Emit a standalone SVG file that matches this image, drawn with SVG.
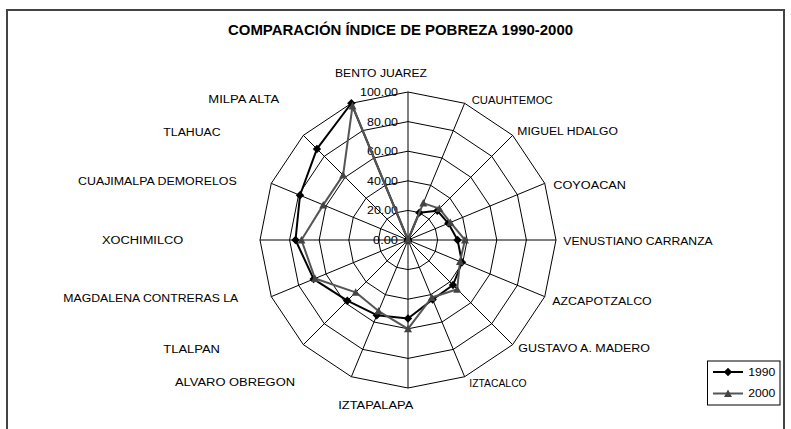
<svg xmlns="http://www.w3.org/2000/svg" width="791" height="429" viewBox="0 0 791 429">
<style>
text{font-family:"Liberation Sans",Arial,sans-serif;font-size:10px;fill:#000}
.title{font-size:14px;font-weight:bold}
.tick{text-anchor:end}
.ring{fill:none;stroke:#000;stroke-width:1}
.spoke{stroke:#000;stroke-width:1}
.s1990{fill:none;stroke:#000;stroke-width:2;stroke-linejoin:round;marker-start:url(#dia);marker-mid:url(#dia);marker-end:url(#dia)}
.s2000{fill:none;stroke:#555;stroke-width:2;stroke-linejoin:round;marker-start:url(#tri);marker-mid:url(#tri);marker-end:url(#tri)}
</style>
<defs>
<marker id="dia" markerUnits="userSpaceOnUse" markerWidth="10" markerHeight="10" refX="5" refY="5" orient="0" overflow="visible">
<polygon points="5,0.8 9.2,5 5,9.2 0.8,5" fill="#000"/>
</marker>
<marker id="tri" markerUnits="userSpaceOnUse" markerWidth="10" markerHeight="10" refX="5" refY="5" orient="0" overflow="visible">
<polygon points="5,1 9,8.5 1,8.5" fill="#444"/>
</marker>
</defs>
<rect width="791" height="429" fill="#fff"/>
<path id="frame" d="M7,432 V10 H784 V432" fill="none" stroke="#444" stroke-width="2"/>
<text class="title" x="228" y="35" textLength="345" lengthAdjust="spacingAndGlyphs">COMPARACIÓN ÍNDICE DE POBREZA 1990-2000</text>
<g id="grid" transform="translate(408,240)">
<polygon class="ring" points="0,-29.6 11.33,-27.35 20.93,-20.93 27.35,-11.33 29.6,0 27.35,11.33 20.93,20.93 11.33,27.35 0,29.6 -11.33,27.35 -20.93,20.93 -27.35,11.33 -29.6,0 -27.35,-11.33 -20.93,-20.93 -11.33,-27.35"/>
<polygon class="ring" points="0,-59.2 22.65,-54.69 41.86,-41.86 54.69,-22.65 59.2,0 54.69,22.65 41.86,41.86 22.65,54.69 0,59.2 -22.65,54.69 -41.86,41.86 -54.69,22.65 -59.2,0 -54.69,-22.65 -41.86,-41.86 -22.65,-54.69"/>
<polygon class="ring" points="0,-88.8 33.98,-82.04 62.79,-62.79 82.04,-33.98 88.8,0 82.04,33.98 62.79,62.79 33.98,82.04 0,88.8 -33.98,82.04 -62.79,62.79 -82.04,33.98 -88.8,0 -82.04,-33.98 -62.79,-62.79 -33.98,-82.04"/>
<polygon class="ring" points="0,-118.4 45.31,-109.39 83.72,-83.72 109.39,-45.31 118.4,0 109.39,45.31 83.72,83.72 45.31,109.39 0,118.4 -45.31,109.39 -83.72,83.72 -109.39,45.31 -118.4,0 -109.39,-45.31 -83.72,-83.72 -45.31,-109.39"/>
<polygon class="ring" points="0,-148 56.64,-136.73 104.65,-104.65 136.73,-56.64 148,0 136.73,56.64 104.65,104.65 56.64,136.73 0,148 -56.64,136.73 -104.65,104.65 -136.73,56.64 -148,0 -136.73,-56.64 -104.65,-104.65 -56.64,-136.73"/>
<g class="spoke">
<line x1="0" y1="0" x2="0" y2="-148"/>
<line x1="0" y1="0" x2="56.64" y2="-136.73"/>
<line x1="0" y1="0" x2="104.65" y2="-104.65"/>
<line x1="0" y1="0" x2="136.73" y2="-56.64"/>
<line x1="0" y1="0" x2="148" y2="0"/>
<line x1="0" y1="0" x2="136.73" y2="56.64"/>
<line x1="0" y1="0" x2="104.65" y2="104.65"/>
<line x1="0" y1="0" x2="56.64" y2="136.73"/>
<line x1="0" y1="0" x2="0" y2="148"/>
<line x1="0" y1="0" x2="-56.64" y2="136.73"/>
<line x1="0" y1="0" x2="-104.65" y2="104.65"/>
<line x1="0" y1="0" x2="-136.73" y2="56.64"/>
<line x1="0" y1="0" x2="-148" y2="0"/>
<line x1="0" y1="0" x2="-136.73" y2="-56.64"/>
<line x1="0" y1="0" x2="-104.65" y2="-104.65"/>
<line x1="0" y1="0" x2="-56.64" y2="-136.73"/>
</g>
</g>
<g id="ticks">
<text class="tick" x="398" y="96" textLength="38" lengthAdjust="spacingAndGlyphs">100.00</text>
<text class="tick" x="398" y="125.6" textLength="31" lengthAdjust="spacingAndGlyphs">80.00</text>
<text class="tick" x="398" y="155.2" textLength="31" lengthAdjust="spacingAndGlyphs">60.00</text>
<text class="tick" x="398" y="184.8" textLength="31" lengthAdjust="spacingAndGlyphs">40.00</text>
<text class="tick" x="398" y="214.4" textLength="31" lengthAdjust="spacingAndGlyphs">20.00</text>
<text class="tick" x="398" y="244" textLength="25" lengthAdjust="spacingAndGlyphs">0.00</text>
</g>
<g id="connectors">
<polygon id="series-1990" class="s1990" points="408,240 419.33,212.65 437.30,210.70 448.34,223.29 457.58,240 462.01,262.37 453.0,285.0 432.64,299.48 408,318.44 376.85,315.20 347.30,300.70 313.65,279.08 295.52,240 299.98,195.26 316.95,148.95 351.36,103.27"/>
<polygon id="series-2000" class="s2000" points="408,240 423.29,203.08 439.40,208.60 450.39,222.44 464.98,240 459.96,261.52 457.19,289.19 431.79,297.43 408,328.8 378.55,311.10 355.67,292.33 315.02,278.51 301.44,240 323.23,204.89 343.12,175.12 352.50,106.0"/>
</g>
<g id="labels">
<g id="n-benito"><text x="335" y="77" textLength="92" lengthAdjust="spacingAndGlyphs">BENTO JUAREZ</text></g>
<g id="n-cuauhtemoc"><text x="471.7" y="104" textLength="81" lengthAdjust="spacingAndGlyphs">CUAUHTEMOC</text></g>
<g id="n-miguel"><text x="517.3" y="135" textLength="100.7" lengthAdjust="spacingAndGlyphs">MIGUEL HDALGO</text></g>
<g id="n-coyoacan"><text x="553.3" y="188.5" textLength="72.7" lengthAdjust="spacingAndGlyphs">COYOACAN</text></g>
<g id="n-venustiano"><text x="563.3" y="245" textLength="149.4" lengthAdjust="spacingAndGlyphs">VENUSTIANO CARRANZA</text></g>
<g id="n-azcapotzalco"><text x="552.3" y="305" textLength="99.4" lengthAdjust="spacingAndGlyphs">AZCAPOTZALCO</text></g>
<g id="n-gustavo"><text x="518.3" y="352" textLength="131.7" lengthAdjust="spacingAndGlyphs">GUSTAVO A. MADERO</text></g>
<g id="n-iztacalco"><text x="469.3" y="387" textLength="57.4" lengthAdjust="spacingAndGlyphs">IZTACALCO</text></g>
<g id="n-iztapalapa"><text x="338.3" y="408.5" textLength="75" lengthAdjust="spacingAndGlyphs">IZTAPALAPA</text></g>
<g id="n-alvaro"><text x="175" y="386" textLength="120" lengthAdjust="spacingAndGlyphs">ALVARO OBREGON</text></g>
<g id="n-tlalpan"><text x="163.3" y="353" textLength="56.7" lengthAdjust="spacingAndGlyphs">TLALPAN</text></g>
<g id="n-magdalena"><text x="63.3" y="302" textLength="175" lengthAdjust="spacingAndGlyphs">MAGDALENA CONTRERAS LA</text></g>
<g id="n-xochimilco"><text x="102" y="243.5" textLength="81.3" lengthAdjust="spacingAndGlyphs">XOCHIMILCO</text></g>
<g id="n-cuajimalpa"><text x="78" y="184.5" textLength="158.7" lengthAdjust="spacingAndGlyphs">CUAJIMALPA DEMORELOS</text></g>
<g id="n-tlahuac"><text x="163.3" y="136" textLength="57.4" lengthAdjust="spacingAndGlyphs">TLAHUAC</text></g>
<g id="n-milpa"><text x="208.3" y="103" textLength="71" lengthAdjust="spacingAndGlyphs">MILPA ALTA</text></g>
</g>
<g id="legend">
<rect x="707.5" y="361" width="72.5" height="44" fill="#fff" stroke="#000" stroke-width="1"/>
<polyline class="s1990" points="713,372 728,372 743,372" style="marker-start:none;marker-end:none"/>
<polyline class="s2000" points="713,393.5 728,393.5 743,393.5" style="marker-start:none;marker-end:none"/>
<text x="748.3" y="375.5" textLength="27" lengthAdjust="spacingAndGlyphs">1990</text>
<text x="748.3" y="397" textLength="27" lengthAdjust="spacingAndGlyphs">2000</text>
</g>
</svg>
